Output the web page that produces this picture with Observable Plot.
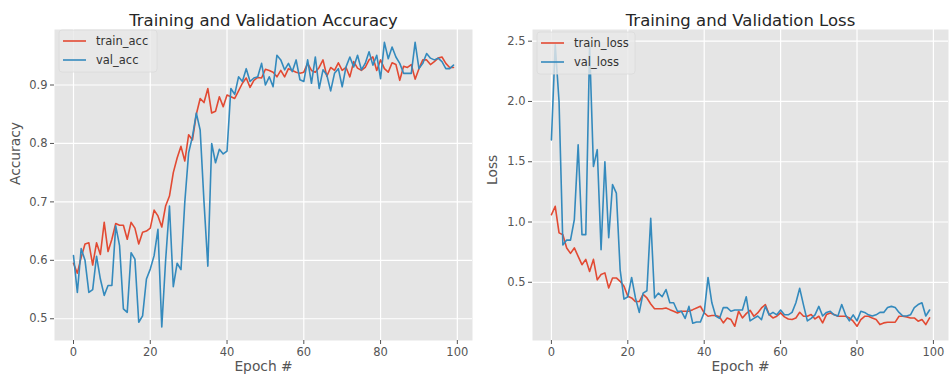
<!DOCTYPE html>
<html><head><meta charset="utf-8">
<script src="https://cdn.jsdelivr.net/npm/d3@7"></script>
<script src="https://cdn.jsdelivr.net/npm/@observablehq/plot@0.6"></script>
<style>
body{margin:0;background:#fff;}
#wrap{display:flex;width:950px;height:380px;background:#fff;}
</style>
</head><body><div id="wrap"></div>
<script>
const trainAcc = [0.595,0.578,0.605,0.628,0.630,0.592,0.630,0.610,0.665,0.615,
0.636,0.663,0.660,0.660,0.636,0.665,0.655,0.628,0.648,0.650,
0.655,0.686,0.676,0.657,0.693,0.710,0.750,0.775,0.795,0.770,
0.815,0.806,0.850,0.877,0.870,0.894,0.852,0.855,0.880,0.863,
0.883,0.880,0.877,0.890,0.903,0.912,0.896,0.908,0.913,0.912,
0.927,0.925,0.922,0.914,0.925,0.914,0.928,0.925,0.922,0.920,
0.922,0.937,0.925,0.922,0.930,0.943,0.915,0.930,0.925,0.938,
0.925,0.930,0.914,0.940,0.929,0.925,0.930,0.943,0.948,0.925,
0.943,0.928,0.922,0.938,0.935,0.908,0.932,0.930,0.935,0.910,
0.928,0.943,0.943,0.935,0.940,0.946,0.948,0.937,0.930,0.930];
const valAcc = [0.608,0.545,0.620,0.600,0.545,0.550,0.607,0.568,0.540,0.557,
0.557,0.659,0.625,0.517,0.511,0.613,0.602,0.494,0.505,0.568,
0.585,0.608,0.653,0.486,0.600,0.693,0.555,0.595,0.584,0.700,
0.784,0.812,0.852,0.823,0.700,0.590,0.800,0.767,0.790,0.782,
0.787,0.894,0.884,0.914,0.906,0.928,0.906,0.912,0.914,0.937,
0.900,0.914,0.897,0.951,0.943,0.926,0.937,0.923,0.943,0.909,
0.906,0.943,0.903,0.948,0.894,0.926,0.917,0.890,0.920,0.928,
0.897,0.931,0.948,0.931,0.951,0.926,0.937,0.957,0.934,0.951,
0.911,0.973,0.945,0.965,0.948,0.937,0.920,0.920,0.920,0.973,
0.928,0.937,0.954,0.946,0.943,0.946,0.940,0.928,0.928,0.934];
const trainLoss = [1.06,1.13,0.91,0.895,0.785,0.74,0.785,0.715,0.646,0.69,
0.59,0.69,0.52,0.565,0.578,0.453,0.536,0.536,0.508,0.467,
0.384,0.37,0.34,0.34,0.40,0.37,0.32,0.28,0.28,0.28,
0.287,0.273,0.26,0.246,0.26,0.26,0.26,0.273,0.287,0.301,
0.246,0.218,0.224,0.224,0.213,0.163,0.204,0.191,0.135,0.26,
0.204,0.24,0.268,0.218,0.246,0.287,0.315,0.232,0.204,0.218,
0.246,0.213,0.196,0.191,0.204,0.251,0.218,0.218,0.232,0.196,
0.218,0.163,0.232,0.246,0.232,0.218,0.218,0.218,0.204,0.177,
0.135,0.191,0.218,0.218,0.204,0.191,0.149,0.163,0.169,0.169,
0.169,0.218,0.218,0.213,0.204,0.204,0.177,0.191,0.149,0.204];
const valLoss = [1.68,2.47,2.0,0.81,0.85,0.85,1.02,1.64,0.895,0.895,
2.46,1.46,1.60,0.77,1.50,0.87,1.31,1.24,0.60,0.36,
0.38,0.54,0.37,0.25,0.41,0.43,1.03,0.37,0.41,0.38,
0.44,0.33,0.33,0.26,0.26,0.20,0.30,0.16,0.17,0.17,
0.25,0.54,0.33,0.22,0.20,0.29,0.29,0.26,0.27,0.27,
0.27,0.38,0.18,0.20,0.22,0.19,0.30,0.23,0.25,0.23,
0.27,0.23,0.23,0.25,0.33,0.45,0.31,0.18,0.20,0.23,
0.30,0.22,0.25,0.26,0.23,0.22,0.315,0.23,0.18,0.23,
0.18,0.26,0.25,0.23,0.22,0.23,0.25,0.25,0.29,0.30,
0.29,0.25,0.22,0.22,0.23,0.29,0.315,0.33,0.22,0.27];

const xTicks = [0, 20, 40, 60, 80, 100];
const accTicks = [0.5, 0.6, 0.7, 0.8, 0.9];
const lossTicks = [0.5, 1.0, 1.5, 2.0, 2.5];
const accNames = ["train_acc", "val_acc"];
const lossNames = ["train_loss", "val_loss"];
const colors = ["#E24A33", "#348ABD"];

function panel(o) {
  const svg = Plot.plot({
    width: o.width, height: 380,
    marginTop: 29, marginBottom: 40, marginLeft: o.marginLeft, marginRight: o.marginRight,
    style: {fontFamily: "DejaVu Sans, sans-serif", fontSize: "11.5px", background: "white", overflow: "visible"},
    x: {domain: [-4.95, 103.95]},
    y: {domain: o.yDomain},
    marks: [
      Plot.frame({fill: "#E5E5E5", stroke: "none"}),
      Plot.gridX(xTicks, {stroke: "white", strokeOpacity: 1, strokeWidth: 1.2}),
      Plot.gridY(o.yTicks, {stroke: "white", strokeOpacity: 1, strokeWidth: 1.2}),
      Plot.axisX(xTicks, {tickSize: 4, tickPadding: 3, color: "#555", label: null, fontSize: 11.5}),
      Plot.axisY(o.yTicks, {tickSize: 4, tickPadding: 3, color: "#555", label: null, fontSize: 11.5, tickFormat: d3.format(".1f")}),
      Plot.lineY(o.train, {stroke: colors[0], strokeWidth: 1.6}),
      Plot.lineY(o.val, {stroke: colors[1], strokeWidth: 1.6}),
      Plot.text([o.title], {text: d => d, frameAnchor: "top", dy: -15, fontSize: 16.5, fill: "#262626"}),
      Plot.text(["Epoch #"], {text: d => d, frameAnchor: "bottom", dy: 30, fontSize: 13.8, fill: "#555"}),
      Plot.text([o.ylabel], {text: d => d, frameAnchor: "left", dx: o.ylabelDx, rotate: -90, fontSize: 13.8, fill: "#555"})
    ]
  });
  // legend (positions relative to this panel's svg)
  const g = d3.select(svg).append("g")
    .attr("font-family", "DejaVu Sans, sans-serif").attr("font-size", 11.5).attr("text-anchor", "start");
  const L = o.legend;
  g.append("rect").attr("x", L.x).attr("y", L.y).attr("width", L.w).attr("height", 42)
    .attr("rx", 3).attr("fill", "#E8E8E8").attr("fill-opacity", 0.8).attr("stroke", "#DADADA").attr("stroke-width", 0.8);
  o.names.forEach((name, i) => {
    const yy = L.y + 11 + i * 19;
    g.append("line").attr("x1", L.x + 4).attr("x2", L.x + 27).attr("y1", yy).attr("y2", yy)
      .attr("stroke", colors[i]).attr("stroke-width", 1.6);
    g.append("text").attr("x", L.x + 37).attr("y", yy).attr("dy", "0.35em")
      .attr("text-anchor", "start").attr("fill", "#333").text(name);
  });
  return svg;
}

const wrap = document.getElementById("wrap");
wrap.appendChild(panel({
  width: 480, marginLeft: 54, marginRight: 8,
  yDomain: [0.4628, 0.995], yTicks: accTicks,
  train: trainAcc, val: valAcc,
  title: "Training and Validation Accuracy", ylabel: "Accuracy", ylabelDx: -39,
  names: accNames, legend: {x: 59, y: 30, w: 98}
}));
wrap.appendChild(panel({
  width: 470, marginLeft: 52, marginRight: 2,
  yDomain: [0.017, 2.597], yTicks: lossTicks,
  train: trainLoss, val: valLoss,
  title: "Training and Validation Loss", ylabel: "Loss", ylabelDx: -40,
  names: lossNames, legend: {x: 57, y: 32, w: 98}
}));
</script>
</body></html>
